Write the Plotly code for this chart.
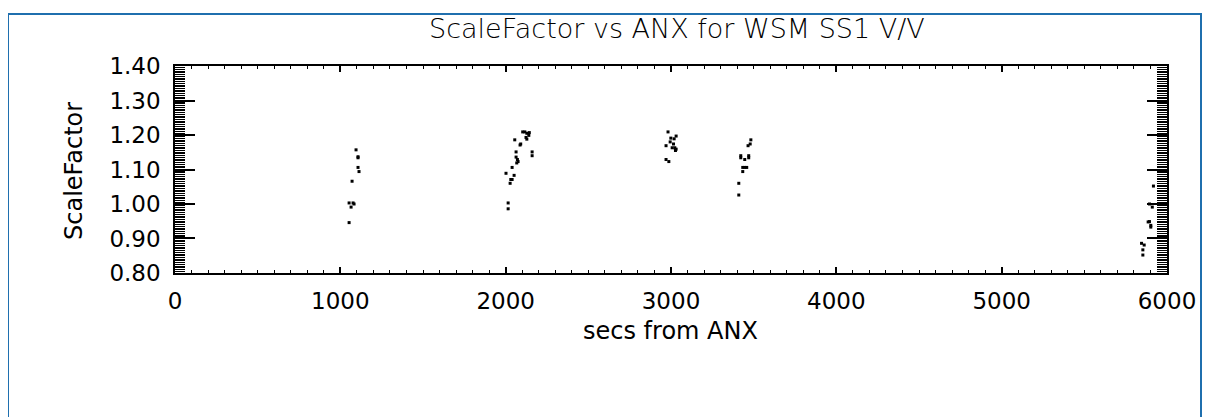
import plotly.graph_objects as go

# ---- data ----
secs = [
    1095, 1107, 1107, 1107, 1113, 1071, 1053, 1077, 1083, 1065, 1053,
    2103, 2116, 2128, 2143, 2140, 2123, 2128, 2055, 2091, 2087, 2063, 2160,
    2160, 2063, 2071, 2075, 2067, 2039, 2002, 2051, 2031, 2039, 2027, 2015, 2015,
    2982, 2999, 3031, 3019, 2995, 3015, 2970, 3007, 3023, 3031, 3027, 2970, 2987,
    3483, 3479, 3466, 3422, 3422, 3470, 3470, 3446, 3434, 3446, 3458, 3434, 3410, 3410,
    5918, 5894, 5911, 5886, 5894, 5902, 5902, 5846, 5862, 5854, 5854,
]
scale_factor = [
    1.157, 1.137, 1.134, 1.106, 1.094, 1.066, 1.003, 1.003, 1.000, 0.991, 0.946,
    1.209, 1.209, 1.205, 1.207, 1.199, 1.193, 1.188, 1.186, 1.174, 1.171, 1.151, 1.151,
    1.140, 1.136, 1.129, 1.123, 1.119, 1.106, 1.089, 1.083, 1.071, 1.071, 1.060, 1.003, 0.986,
    1.209, 1.191, 1.197, 1.189, 1.180, 1.174, 1.169, 1.163, 1.163, 1.159, 1.155, 1.129, 1.123,
    1.186, 1.174, 1.169, 1.140, 1.134, 1.140, 1.134, 1.129, 1.106, 1.106, 1.106, 1.094, 1.060, 1.026,
    1.052, 1.000, 0.991, 0.948, 0.949, 0.938, 0.933, 0.886, 0.881, 0.867, 0.852,
]
x_tickvals = [0, 1000, 2000, 3000, 4000, 5000, 6000]
y_tickvals = [0.80, 0.90, 1.00, 1.10, 1.20, 1.30, 1.40]
y_ticktext = ["0.80", "0.90", "1.00", "1.10", "1.20", "1.30", "1.40"]

title_text = "ScaleFactor vs ANX for WSM SS1 V/V"
x_title = "secs from ANX"
y_title = "ScaleFactor"

FONT = "DejaVu Sans"

fig = go.Figure()
fig.add_trace(go.Scatter(
    x=secs, y=scale_factor, mode="markers",
    marker=dict(symbol="square", size=3, color="black", line=dict(width=0)),
    showlegend=False, hoverinfo="x+y",
))

fig.update_layout(
    width=1210, height=417,
    margin=dict(l=167, r=51, t=58, b=152),
    paper_bgcolor="white", plot_bgcolor="white",
    font=dict(family=FONT, color="black"),
    title=dict(text=title_text, font=dict(size=27, family=FONT, color="black", weight=300),
               x=0.506, xref="paper", xanchor="center",
               y=1 - 21 / 417, yref="container", yanchor="middle"),
    showlegend=False,
)

fig.update_xaxes(
    range=[0, 6000], tickvals=x_tickvals,
    showgrid=False, zeroline=False,
    showline=True, linecolor="black", linewidth=1.5, mirror="ticks",
    ticks="inside", ticklen=6, tickwidth=1.5, tickcolor="black",
    minor=dict(dtick=100, tick0=0, ticks="inside", ticklen=3, tickwidth=1, tickcolor="black", showgrid=False),
    tickfont=dict(size=23, family=FONT, color="black"),
    ticklabelstandoff=7,
)
fig.update_yaxes(
    range=[0.7999, 1.4001], tickvals=y_tickvals, ticktext=y_ticktext,
    showgrid=False, zeroline=False,
    showline=True, linecolor="black", linewidth=1.5, mirror="ticks",
    ticks="inside", ticklen=20, tickwidth=1.5, tickcolor="black",
    minor=dict(dtick=0.005, tick0=0.8, ticks="inside", ticklen=10, tickwidth=1, tickcolor="black", showgrid=False),
    tickfont=dict(size=23, family=FONT, color="black"),
    ticklabelstandoff=8,
)

# plot area spans screen px x 175..1167, y 66..273 (page has an 8px body offset)
fig.add_annotation(text=x_title, xref="paper", yref="paper",
                   x=0.499, y=(273 - 331) / 207, xanchor="center", yanchor="middle",
                   showarrow=False, font=dict(size=24, family=FONT, color="black"))
fig.add_annotation(text=y_title, xref="paper", yref="paper",
                   x=(74 - 175) / 992, y=0.493, xanchor="center", yanchor="middle",
                   textangle=-90,
                   showarrow=False, font=dict(size=24, family=FONT, color="black"))

# outer blue frame
fig.add_shape(type="rect", xref="paper", yref="paper",
              x0=(8 - 175) / 992, x1=(1201 - 175) / 992,
              y0=(273 - 440) / 207, y1=(273 - 14) / 207,
              line=dict(color="#1f6fae", width=2), fillcolor="rgba(0,0,0,0)", layer="below")

fig.write_html("out.html")
